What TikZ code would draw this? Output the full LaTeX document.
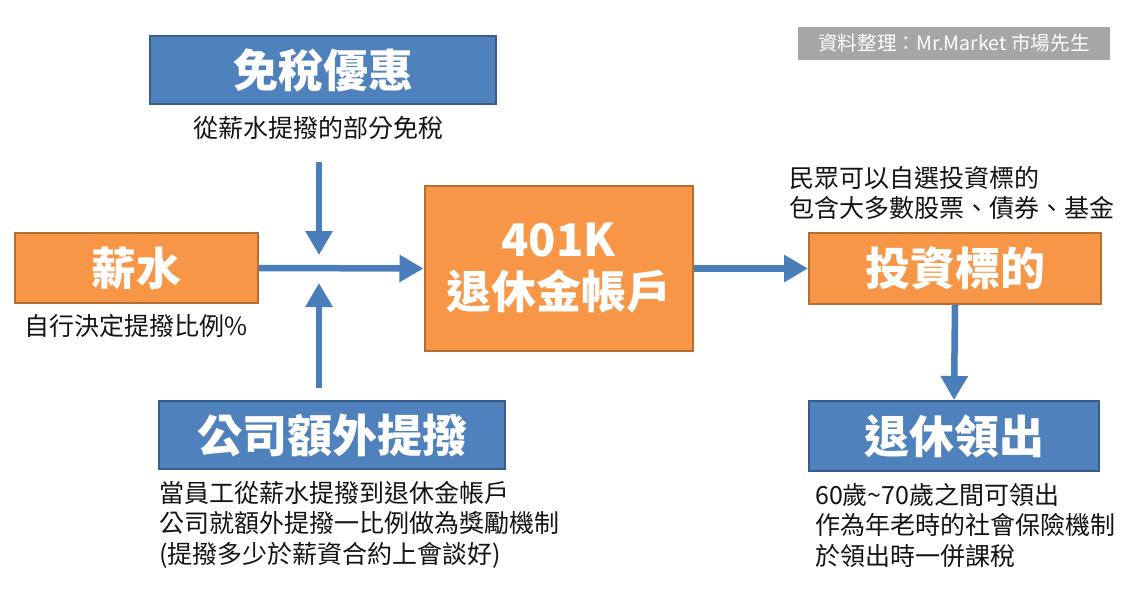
\documentclass[tikz,border=0pt]{standalone}
\usepackage{fontspec}
\setmainfont{Noto Sans CJK TC}
\usetikzlibrary{arrows.meta}
\definecolor{bluefill}{HTML}{4F81BD}
\definecolor{blueedge}{HTML}{385D8A}
\definecolor{orangefill}{HTML}{F79646}
\definecolor{orangeedge}{HTML}{B66D31}
\definecolor{arrowblue}{HTML}{4A7EBB}
\definecolor{greylabel}{HTML}{A6A6A6}
\definecolor{bodytext}{HTML}{141414}
\tikzset{
  bluebox/.style={draw=blueedge, fill=bluefill, line width=2pt, text=white, inner sep=0pt,
    font=\fontsize{45}{52}\selectfont\bfseries, align=center},
  orangebox/.style={draw=orangeedge, fill=orangefill, line width=2pt, text=white, inner sep=0pt,
    font=\fontsize{45}{52}\selectfont\bfseries, align=center},
  note/.style={text=bodytext, inner sep=0pt, font=\fontsize{25}{30.5}\selectfont, align=left},
  flow/.style={draw=arrowblue, line width=6.5pt, -{Triangle[length=24pt,width=26pt]}}
}
\begin{document}
\begin{tikzpicture}[x=1pt,y=-1pt]
\useasboundingbox (0,0) rectangle (1133,605);
\fill[white] (0,0) rectangle (1133,605);

% source label
\node[fill=greylabel, text=white, minimum width=312pt, minimum height=33pt, inner sep=0pt,
  font=\fontsize{19.6}{22}\selectfont] (src) at (954,43.5) {資料整理：Mr.Market 市場先生};

% boxes
\node[bluebox, minimum width=346pt, minimum height=68pt] (tax) at (323,70) {免稅優惠};
\node[note, anchor=center] (taxnote) at (318,128) {從薪水提撥的部分免稅};

\node[orangebox, minimum width=243pt, minimum height=70pt] (salary) at (136.5,268) {薪水};
\node[note, anchor=west] (salnote) at (24,326) {自行決定提撥比例\%};

\node[orangebox, minimum width=268pt, minimum height=165pt] (acct) at (558.5,268.5) {401K\\退休金帳戶};

\node[orangebox, minimum width=292pt, minimum height=71pt] (invest) at (955,268.5) {投資標的};
\node[note, anchor=north west] (invnote) at (789,166) {民眾可以自選投資標的\\包含大多數股票、債券、基金};

\node[bluebox, minimum width=346pt, minimum height=68pt] (company) at (332,435) {公司額外提撥};
\node[note, anchor=north west] (compnote) at (159,481) {當員工從薪水提撥到退休金帳戶\\公司就額外提撥一比例做為獎勵機制\\(提撥多少於薪資合約上會談好)};

\node[bluebox, minimum width=290pt, minimum height=70pt] (retire) at (954,436) {退休領出};
\node[note, anchor=north west] (retnote) at (815,483) {60歲\textasciitilde 70歲之間可領出\\作為年老時的社會保險機制\\於領出時一併課稅};

% connector end points
\coordinate (topA) at (319,162);
\coordinate (topB) at (319,255);
\coordinate (botA) at (319,388);
\coordinate (botB) at (319,283);

% arrows
\draw[flow] (topA) -- (topB);
\draw[flow] (botA) -- (botB);
\draw[flow] (salary.east) -- (acct.west);
\draw[flow] (acct.east) -- (invest.west);
\draw[flow] (invest.south) -- (retire.north);
\end{tikzpicture}
\end{document}
